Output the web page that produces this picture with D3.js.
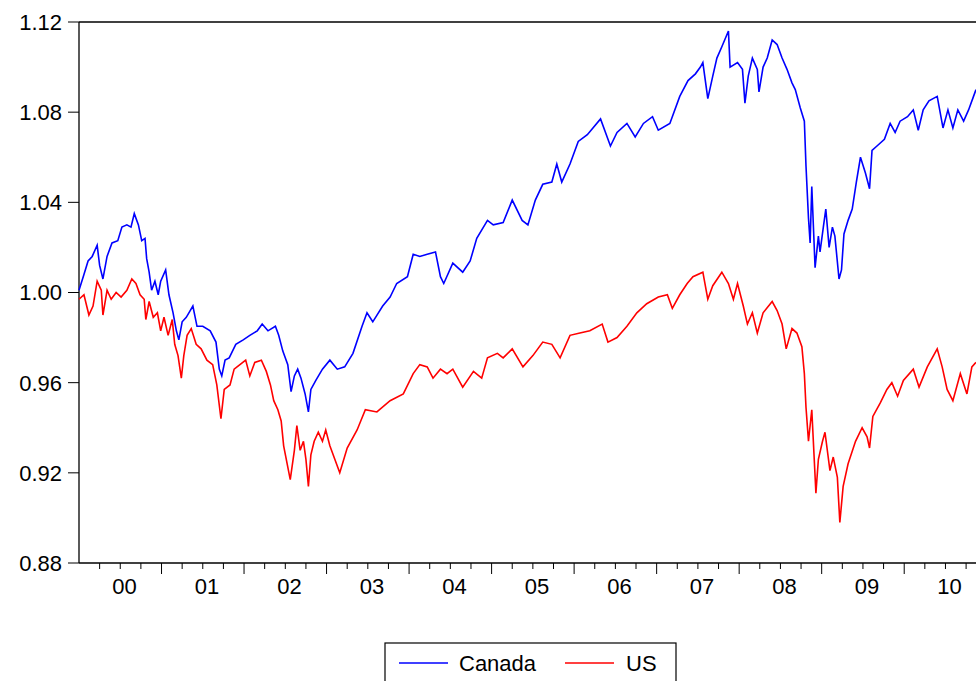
<!DOCTYPE html>
<html><head><meta charset="utf-8">
<script src="https://cdn.jsdelivr.net/npm/d3@7"></script>
<style>body{margin:0;background:#fff}svg{display:block}text{font-family:"Liberation Sans",Arial,sans-serif}</style>
</head><body><svg id="c" width="976" height="681"></svg>
<script>
const yearLabels=["00","01","02","03","04","05","06","07","08","09","10"];
const yTicks=[0.88,0.92,0.96,1.00,1.04,1.08,1.12];
// time in years since 2000-01-01
const tCanada=[0,.06,.11,.16,.22,.25,.29,.34,.40,.47,.52,.58,.63,.67,.72,.76,.80,.82,.85,.88,.92,.96,.99,1.05,1.09,1.14,1.18,1.21,1.25,1.30,1.38,1.43,1.50,1.59,1.66,1.70,1.73,1.77,1.82,1.90,1.99,2.07,2.16,2.22,2.29,2.38,2.42,2.47,2.53,2.57,2.61,2.65,2.69,2.74,2.78,2.81,2.87,2.95,3.04,3.13,3.22,3.32,3.43,3.49,3.56,3.68,3.77,3.85,3.98,4.05,4.13,4.22,4.32,4.38,4.42,4.53,4.65,4.74,4.82,4.95,5.02,5.14,5.25,5.37,5.44,5.53,5.62,5.73,5.79,5.85,5.95,6.05,6.16,6.32,6.44,6.52,6.64,6.74,6.84,6.95,7.02,7.16,7.28,7.38,7.47,7.53,7.56,7.62,7.68,7.73,7.79,7.87,7.89,7.98,8.04,8.07,8.11,8.16,8.22,8.24,8.29,8.34,8.40,8.46,8.52,8.58,8.64,8.68,8.74,8.79,8.81,8.84,8.86,8.88,8.92,8.96,8.98,9.02,9.05,9.09,9.13,9.16,9.21,9.24,9.27,9.32,9.37,9.42,9.47,9.53,9.58,9.61,9.67,9.76,9.83,9.89,9.95,10.04,10.11,10.17,10.23,10.30,10.40,10.47,10.53,10.59,10.65,10.72,10.78,10.84,10.87];
const vCanada=[1.001,1.008,1.014,1.016,1.021,1.012,1.006,1.016,1.022,1.023,1.029,1.030,1.029,1.035,1.030,1.023,1.024,1.015,1.009,1.001,1.005,0.999,1.005,1.010,0.999,0.991,0.983,0.979,0.987,0.989,0.994,0.985,0.985,0.983,0.978,0.966,0.963,0.970,0.971,0.977,0.979,0.981,0.983,0.986,0.983,0.985,0.981,0.974,0.968,0.956,0.963,0.966,0.962,0.955,0.947,0.957,0.961,0.966,0.970,0.966,0.967,0.973,0.985,0.991,0.987,0.994,0.998,1.004,1.007,1.017,1.016,1.017,1.018,1.007,1.004,1.013,1.009,1.014,1.024,1.032,1.030,1.031,1.041,1.032,1.030,1.041,1.048,1.049,1.057,1.049,1.057,1.067,1.070,1.077,1.065,1.071,1.075,1.069,1.075,1.078,1.072,1.075,1.087,1.094,1.097,1.100,1.102,1.086,1.096,1.104,1.109,1.116,1.100,1.102,1.099,1.084,1.096,1.104,1.099,1.089,1.100,1.104,1.112,1.110,1.104,1.099,1.093,1.090,1.082,1.076,1.056,1.033,1.022,1.047,1.011,1.025,1.018,1.029,1.037,1.020,1.029,1.025,1.006,1.010,1.026,1.032,1.037,1.049,1.060,1.053,1.046,1.063,1.065,1.068,1.075,1.071,1.076,1.078,1.081,1.072,1.081,1.085,1.087,1.073,1.081,1.073,1.081,1.076,1.081,1.087,1.090];
const tUS=[0,.06,.12,.17,.22,.27,.29,.34,.39,.45,.51,.58,.64,.69,.74,.79,.81,.85,.90,.95,.99,1.03,1.08,1.13,1.16,1.20,1.24,1.27,1.31,1.36,1.42,1.48,1.55,1.62,1.67,1.72,1.76,1.83,1.88,1.95,2.02,2.07,2.13,2.21,2.27,2.32,2.36,2.41,2.45,2.48,2.56,2.61,2.64,2.68,2.72,2.75,2.78,2.81,2.85,2.90,2.95,2.99,3.04,3.10,3.16,3.25,3.37,3.47,3.61,3.77,3.93,4.05,4.13,4.22,4.29,4.38,4.46,4.53,4.65,4.78,4.88,4.95,5.07,5.14,5.25,5.38,5.50,5.62,5.73,5.83,5.95,6.07,6.19,6.34,6.41,6.52,6.64,6.76,6.88,7.02,7.13,7.19,7.28,7.37,7.44,7.56,7.62,7.68,7.79,7.87,7.93,7.98,8.05,8.10,8.16,8.22,8.29,8.40,8.46,8.52,8.57,8.64,8.70,8.76,8.79,8.81,8.84,8.88,8.93,8.96,9.01,9.04,9.10,9.14,9.19,9.22,9.26,9.32,9.41,9.49,9.55,9.58,9.62,9.71,9.79,9.85,9.92,9.99,10.11,10.18,10.28,10.40,10.46,10.52,10.59,10.68,10.76,10.82,10.87];
const vUS=[.997,.999,.990,.994,1.005,1.001,.990,1.001,.997,1.000,.998,1.001,1.006,1.004,.999,.997,.988,.996,.989,.991,.983,.989,.981,.988,.977,.972,.962,.972,.981,.984,.977,.975,.970,.968,.959,.944,.957,.959,.966,.968,.970,.963,.969,.970,.965,.959,.952,.948,.943,.932,.917,.930,.941,.930,.934,.926,.914,.928,.934,.938,.934,.939,.932,.926,.920,.931,.939,.948,.947,.952,.955,.964,.968,.967,.962,.966,.964,.966,.958,.965,.962,.971,.973,.971,.975,.967,.972,.978,.977,.971,.981,.982,.983,.986,.978,.980,.985,.991,.995,.998,.999,.993,.999,1.004,1.007,1.009,.997,1.003,1.009,1.004,.997,1.004,.994,.986,.991,.982,.991,.996,.992,.986,.975,.984,.982,.976,.964,.949,.934,.948,.911,.926,.934,.938,.921,.927,.918,.898,.914,.924,.934,.940,.936,.931,.945,.951,.957,.960,.954,.961,.966,.958,.967,.975,.967,.957,.952,.964,.955,.967,.969];

const svg=d3.select("#c");
const L=79,R=976,T=22,B=563;
const x=d3.scaleLinear().domain([0,10.87]).range([L,R]);
const y=d3.scaleLinear().domain([0.88,1.12]).range([B,T]);
svg.append("line").attr("x1",L).attr("x2",R).attr("y1",T).attr("y2",T).attr("stroke","#000").attr("stroke-width",1.3);
svg.append("line").attr("x1",L).attr("x2",L).attr("y1",T).attr("y2",B).attr("stroke","#000").attr("stroke-width",1.3);
svg.append("line").attr("x1",L).attr("x2",R).attr("y1",B).attr("y2",B).attr("stroke","#000").attr("stroke-width",1.3);
const ya=svg.append("g");
yTicks.forEach(v=>{
  ya.append("line").attr("x1",L-11).attr("x2",L).attr("y1",y(v)).attr("y2",y(v)).attr("stroke","#000");
  ya.append("text").attr("x",L-17).attr("y",y(v)).attr("dy","0.36em").attr("text-anchor","end").attr("font-size",22).text(v.toFixed(2));
});
const xa=svg.append("g");
for(let q=1;q<=44;q++){
  const t=q/4; if(x(t)>R) break;
  const major=q%4===0;
  xa.append("line").attr("x1",x(t)).attr("x2",x(t)).attr("y1",B).attr("y2",B+(major?11:6)).attr("stroke","#000");
}
yearLabels.forEach((lab,i)=>{
  xa.append("text").attr("x",x(i+0.55)).attr("y",B+31).attr("text-anchor","middle").attr("font-size",22).text(lab);
});
const line=d3.line().x(d=>x(d[0])).y(d=>y(d[1]));
svg.append("path").datum(tUS.map((t,i)=>[t,vUS[i]])).attr("d",line).attr("fill","none").attr("stroke","#ff0000").attr("stroke-width",1.6);
svg.append("path").datum(tCanada.map((t,i)=>[t,vCanada[i]])).attr("d",line).attr("fill","none").attr("stroke","#0000ff").attr("stroke-width",1.6);
const lg=svg.append("g");
lg.append("rect").attr("x",385).attr("y",643).attr("width",291).attr("height",50).attr("fill","#fff").attr("stroke","#000").attr("stroke-width",1.2);
lg.append("line").attr("x1",399).attr("x2",448).attr("y1",663).attr("y2",663).attr("stroke","#0000ff").attr("stroke-width",1.4);
lg.append("text").attr("x",459).attr("y",663).attr("dy","0.36em").attr("font-size",22).text("Canada");
lg.append("line").attr("x1",565).attr("x2",614).attr("y1",663).attr("y2",663).attr("stroke","#ff0000").attr("stroke-width",1.4);
lg.append("text").attr("x",626).attr("y",663).attr("dy","0.36em").attr("font-size",22).text("US");
</script></body></html>
